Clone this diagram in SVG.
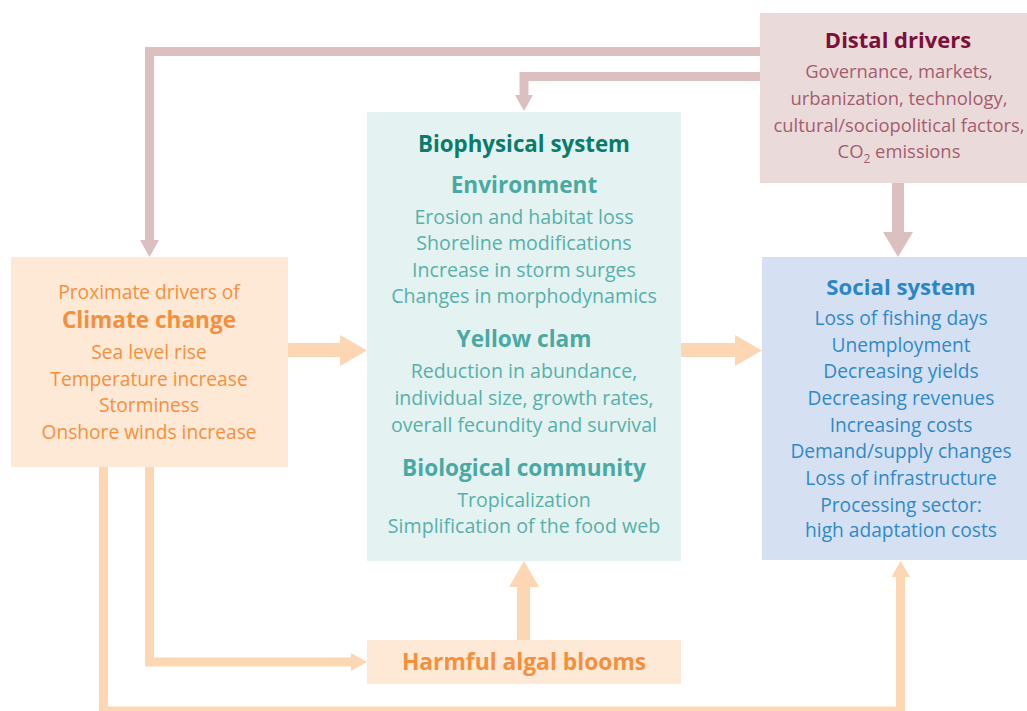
<svg xmlns="http://www.w3.org/2000/svg" width="1027" height="711" viewBox="0 0 1027 711">
<style>
text{font-family:"Open Sans","Noto Sans","DejaVu Sans",sans-serif;text-anchor:middle;}
.b{font-weight:bold;}
.dl{fill:none;stroke:#dcbfc1;stroke-width:9;}
.dh{fill:#dcbfc1;}
.ol{fill:none;stroke:#fdd6b3;stroke-width:9;}
.oh{fill:#fdd6b3;}
.dist{fill:#7b1038;font-size:22px;}
.distt{fill:#a45d70;font-size:18.4px;}
.clim{fill:#f68f3c;font-size:19.2px;}
.climb{fill:#f68f3c;font-size:22.6px;font-weight:bold;}
.bio1{fill:#0b7c6c;font-size:22.3px;}
.bio2{fill:#4aa9a3;font-size:22.6px;}
.bio{fill:#58b0aa;font-size:19.6px;}
.soc1{fill:#2a86c6;font-size:22.2px;}
.soc{fill:#3089c8;font-size:19.2px;}
</style>
<rect width="1027" height="711" fill="#ffffff"/>
<g id="connectors">
<polyline class="dl" points="760,51.5 149.5,51.5 149.5,241"/>
<polygon class="dh" points="140,240 159,240 149.5,257"/>
<polyline class="dl" points="760,76.5 524,76.5 524,96"/>
<polygon class="dh" points="515,95 533,95 524,111"/>
<rect class="dh" x="892" y="183" width="12" height="50"/>
<polygon class="dh" points="883,232 913,232 898,257"/>
<rect class="oh" x="288" y="343" width="53" height="14"/>
<polygon class="oh" points="340,335 367,350.5 340,366"/>
<rect class="oh" x="681" y="343" width="55" height="14"/>
<polygon class="oh" points="735,335 762,350.5 735,366"/>
<rect class="oh" x="517" y="586" width="13" height="54"/>
<polygon class="oh" points="509,587 539,587 524,561"/>
<polyline class="ol" points="149.5,467 149.5,662 352,662"/>
<polygon class="oh" points="351,653 367,662 351,671"/>
<polyline class="ol" points="103.5,467 103.5,711 900.5,711 900.5,576"/>
<polygon class="oh" points="891.5,577 910,577 900.5,561"/>
</g>
<g id="distal">
<rect x="760" y="13" width="267" height="170" fill="#ebdada"/>
<text class="dist b" x="898" y="48">Distal drivers</text>
<text class="distt" x="899" y="78">Governance, markets,</text>
<text class="distt" x="899" y="105">urbanization, technology,</text>
<text class="distt" x="899" y="132">cultural/sociopolitical factors,</text>
<text class="distt" x="899" y="158">CO<tspan font-size="12" dy="5">2</tspan><tspan dy="-5"> emissions</tspan></text>
</g>
<g id="climate">
<rect x="11" y="257" width="277" height="210" fill="#fde9d6"/>
<text class="clim" x="149" y="299">Proximate drivers of</text>
<text class="climb" x="149" y="328">Climate change</text>
<text class="clim" x="149" y="359">Sea level rise</text>
<text class="clim" x="149" y="386">Temperature increase</text>
<text class="clim" x="149" y="412">Storminess</text>
<text class="clim" x="149" y="439">Onshore winds increase</text>
</g>
<g id="biophysical">
<rect x="367" y="112" width="314" height="449" fill="#e4f2f1"/>
<text class="bio1 b" x="524" y="152">Biophysical system</text>
<text class="bio2 b" x="524" y="193">Environment</text>
<text class="bio" x="524" y="224">Erosion and habitat loss</text>
<text class="bio" x="524" y="250">Shoreline modifications</text>
<text class="bio" x="524" y="277">Increase in storm surges</text>
<text class="bio" x="524" y="303">Changes in morphodynamics</text>
<text class="bio2 b" x="524" y="347">Yellow clam</text>
<text class="bio" x="524" y="378">Reduction in abundance,</text>
<text class="bio" x="524" y="405">individual size, growth rates,</text>
<text class="bio" x="524" y="432">overall fecundity and survival</text>
<text class="bio2 b" x="524" y="476">Biological community</text>
<text class="bio" x="524" y="507">Tropicalization</text>
<text class="bio" x="524" y="533">Simplification of the food web</text>
</g>
<g id="social">
<rect x="762" y="257" width="265" height="303" fill="#d5e1f2"/>
<text class="soc1 b" x="901" y="295">Social system</text>
<text class="soc" x="901" y="325">Loss of fishing days</text>
<text class="soc" x="901" y="352">Unemployment</text>
<text class="soc" x="901" y="378">Decreasing yields</text>
<text class="soc" x="901" y="405">Decreasing revenues</text>
<text class="soc" x="901" y="432">Increasing costs</text>
<text class="soc" x="901" y="458">Demand/supply changes</text>
<text class="soc" x="901" y="485">Loss of infrastructure</text>
<text class="soc" x="901" y="512">Processing sector:</text>
<text class="soc" x="901" y="537">high adaptation costs</text>
</g>
<g id="hab">
<rect x="367" y="640" width="314" height="44" fill="#fde9d6"/>
<text class="climb" x="524" y="670" style="font-size:22.8px">Harmful algal blooms</text>
</g>
</svg>
